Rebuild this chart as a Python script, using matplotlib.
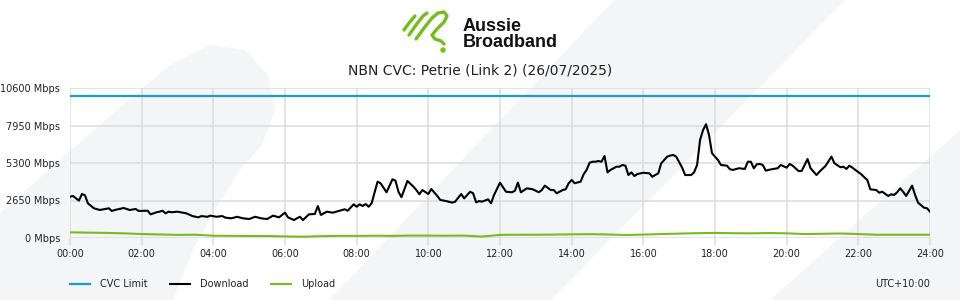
import matplotlib
matplotlib.use('Agg')
import matplotlib.pyplot as plt
from matplotlib.patches import Polygon, Circle
from matplotlib.lines import Line2D
from matplotlib.transforms import Affine2D
import numpy as np

plt.rcParams['font.family'] = ['DejaVu Sans']

# ---------------- data ----------------
title = "NBN CVC: Petrie (Link 2) (26/07/2025)"
y_ticks = [0, 2650, 5300, 7950, 10600]
y_tick_labels = ["0 Mbps", "2650 Mbps", "5300 Mbps", "7950 Mbps", "10600 Mbps"]
x_tick_hours = [0, 2, 4, 6, 8, 10, 12, 14, 16, 18, 20, 22, 24]
x_tick_labels = ["00:00", "02:00", "04:00", "06:00", "08:00", "10:00", "12:00",
                 "14:00", "16:00", "18:00", "20:00", "22:00", "24:00"]
series_names = ["CVC Limit", "Download", "Upload"]
timezone_label = "UTC+10:00"

cvc_minutes = [0, 1440]
cvc_limit = [10000, 10000]

download_minutes = [
    0, 5, 15, 20, 25, 30, 40, 50, 65, 70, 75, 90, 100, 110, 115, 130, 135, 145, 150, 155,
    160, 165, 170, 180, 195, 205, 215, 220, 230, 235, 245, 255, 260, 270, 280, 285, 290, 300,
    310, 320, 330, 340, 350, 360, 365, 375, 380, 385, 390, 400, 410, 415, 420, 430, 440, 450,
    460, 465, 475, 480, 485, 490, 495, 500, 505, 515, 520, 530, 540, 545, 550, 555, 565, 575,
    580, 585, 590, 600, 605, 615, 620, 630, 640, 645, 655, 660, 670, 675, 680, 685, 690, 700,
    705, 710, 720, 730, 740, 745, 750, 755, 765, 775, 785, 790, 795, 805, 810, 815, 825, 830,
    835, 840, 845, 855, 860, 865, 870, 875, 880, 885, 890, 895, 900, 905, 915, 920, 925, 930,
    935, 940, 945, 950, 960, 970, 975, 985, 990, 1000, 1005, 1010, 1015, 1025, 1030, 1040,
    1045, 1050, 1055, 1060, 1065, 1070, 1075, 1080, 1085, 1090, 1100, 1105, 1110, 1120, 1130,
    1135, 1140, 1145, 1150, 1155, 1160, 1165, 1175, 1185, 1190, 1200, 1205, 1210, 1220, 1225,
    1235, 1240, 1250, 1255, 1265, 1275, 1280, 1290, 1295, 1300, 1305, 1310, 1315, 1325, 1330,
    1335, 1340, 1350, 1355, 1360, 1370, 1375, 1380, 1385, 1390, 1395, 1400, 1410, 1415, 1420,
    1430, 1435, 1440]
download_mbps = [
    2920, 2970, 2640, 3110, 3020, 2450, 2100, 1980, 2100, 1910, 1980, 2120, 1980, 2050, 1910,
    1930, 1670, 1820, 1860, 1930, 1740, 1860, 1820, 1860, 1740, 1550, 1460, 1550, 1500, 1580,
    1500, 1550, 1440, 1390, 1500, 1440, 1390, 1340, 1500, 1390, 1340, 1580, 1460, 1790, 1460,
    1270, 1390, 1500, 1270, 1670, 1700, 2260, 1630, 1860, 1790, 1910, 2030, 1930, 2380, 2210,
    2380, 2260, 2400, 2210, 2450, 3980, 3870, 3230, 4150, 4050, 3270, 2880, 4030, 3630, 3390,
    3090, 3390, 3110, 3460, 2970, 2690, 2610, 2500, 2570, 3110, 2800, 3270, 3160, 2520, 2610,
    2570, 2730, 2450, 3040, 3910, 3270, 3230, 3340, 3910, 3230, 3510, 3440, 3230, 3390, 3700,
    3390, 3390, 3160, 3390, 3440, 3870, 4100, 3870, 3980, 4500, 4810, 5320, 5390, 5390, 5440,
    5390, 5800, 4640, 4810, 5040, 5040, 5160, 5110, 4450, 4640, 4380, 4520, 4610, 4570, 4330,
    4570, 5280, 5750, 5820, 5870, 5750, 4970, 4450, 4450, 4640, 5160, 6930, 7630, 8040, 7280,
    5990, 5750, 5510, 5160, 5110, 4860, 4810, 4930, 4880, 5390, 5390, 4930, 5210, 5230, 5160,
    4760, 4860, 4930, 5160, 4970, 5230, 5110, 4730, 4730, 5580, 4930, 4450, 4690, 5090, 5750,
    5280, 5000, 5040, 4880, 5110, 4970, 4810, 4500, 4290, 4100, 3440, 3390, 3200, 3270, 2970,
    3090, 3040, 3230, 3510, 3270, 2970, 3700, 3040, 2500, 2140, 2100, 1860]

upload_minutes = [0, 30, 60, 90, 120, 150, 180, 210, 240, 270, 300, 330, 360, 390, 420, 450,
                  480, 510, 540, 570, 600, 630, 660, 690, 720, 750, 780, 810, 840, 870, 900,
                  930, 960, 990, 1020, 1050, 1080, 1110, 1140, 1170, 1200, 1230, 1260, 1290,
                  1320, 1350, 1380, 1410, 1440]
upload_mbps = [400, 380, 360, 330, 280, 250, 220, 230, 160, 150, 140, 140, 110, 90, 130, 150,
               150, 160, 150, 170, 170, 160, 170, 100, 220, 230, 230, 240, 260, 270, 250,
               210, 240, 280, 310, 340, 360, 340, 330, 350, 330, 280, 300, 320, 280, 230,
               230, 230, 230]

# ---------------- style ----------------
W, H = 960, 300
c_cvc = '#1a9bd7'
c_down = '#000000'
c_up = '#77bc1f'
c_grid = '#dcdcdc'
c_bg = '#f4f5f7'
c_text = '#222222'

fig = plt.figure(figsize=(W / 100, H / 100), dpi=100)
fig.patch.set_facecolor('white')
px = Affine2D().scale(1, -1).translate(0, H)  # pixel coords (y down) -> display

# decorative background shapes
left_shape = [(0, 300), (0, 213), (60, 160), (120, 107), (170, 65), (210, 45), (245, 50),
              (268, 75), (275, 110), (262, 145), (240, 170), (215, 210), (193, 250), (173, 300)]
band_shape = [(329, 300), (614, 0), (845, 0), (551, 300)]
corner_shape = [(770, 300), (960, 130), (960, 300)]
for shp in (left_shape, band_shape, corner_shape):
    fig.add_artist(Polygon(shp, closed=True, transform=px, facecolor=c_bg,
                           edgecolor='none', zorder=-5))

# logo icon (decoration)
icon_strokes = [
    [(404, 30), (409, 23), (415, 16)],
    [(409, 35), (416, 25), (423, 16), (427, 13)],
    [(416, 39), (424, 28), (432, 18), (438, 13), (444, 12), (447, 16), (444, 22),
     (437, 29), (432, 35), (435, 39), (441, 41), (444, 44)],
]
for stroke in icon_strokes:
    sx, sy = zip(*stroke)
    fig.add_artist(Line2D(sx, sy, transform=px, color=c_up, lw=2.4,
                          solid_capstyle='round', solid_joinstyle='round'))
fig.add_artist(Circle((443, 50), 2.0, transform=px, color=c_up))
fig.text(463 / W, 1 - 30.7 / H, "Aussie", fontfamily='Liberation Sans', fontweight='bold',
         fontsize=13, va='baseline', ha='left', color='#111111')
fig.text(463 / W, 1 - 46.7 / H, "Broadband", fontfamily='Liberation Sans', fontweight='bold',
         fontsize=13, va='baseline', ha='left', color='#111111')

fig.text(0.5, 1 - 70 / H, title, ha='center', va='center', fontsize=10, color=c_text)

# ---------------- axes ----------------
ax = fig.add_axes([70 / W, 62 / H, 860 / W, 150 / H])
ax.set_facecolor('none')
ax.set_xlim(0, 24)
ax.set_ylim(0, 10600)
for s in ax.spines.values():
    s.set_visible(False)
ax.set_xticks(x_tick_hours)
ax.set_xticklabels(x_tick_labels)
ax.set_yticks(y_ticks)
ax.set_yticklabels(y_tick_labels)
ax.grid(True, color=c_grid, lw=1.1)
ax.set_axisbelow(True)
ax.tick_params(axis='x', length=5, width=1.1, color=c_grid, labelsize=7, pad=3,
               labelcolor=c_text)
ax.tick_params(axis='y', length=0, labelsize=7, pad=7, labelcolor=c_text)

to_h = lambda m: np.asarray(m, dtype=float) / 60.0
l_cvc, = ax.plot(to_h(cvc_minutes), cvc_limit, color=c_cvc, lw=1.6, label=series_names[0])
l_down, = ax.plot(to_h(download_minutes), download_mbps, color=c_down, lw=1.5,
                  label=series_names[1])
l_up, = ax.plot(to_h(upload_minutes), upload_mbps, color=c_up, lw=1.5, label=series_names[2])

fig.legend(handles=[l_cvc, l_down, l_up], labels=series_names, loc='center left',
           bbox_to_anchor=(70 / W, 16 / H), ncol=3, frameon=False, fontsize=7,
           handlelength=2.06, handletextpad=1.03, columnspacing=2.3, borderpad=0,
           borderaxespad=0, labelcolor=c_text)
fig.text(930 / W, 16 / H, timezone_label, ha='right', va='center', fontsize=7, color=c_text)

fig.savefig('out.png', dpi=100, facecolor='white')
